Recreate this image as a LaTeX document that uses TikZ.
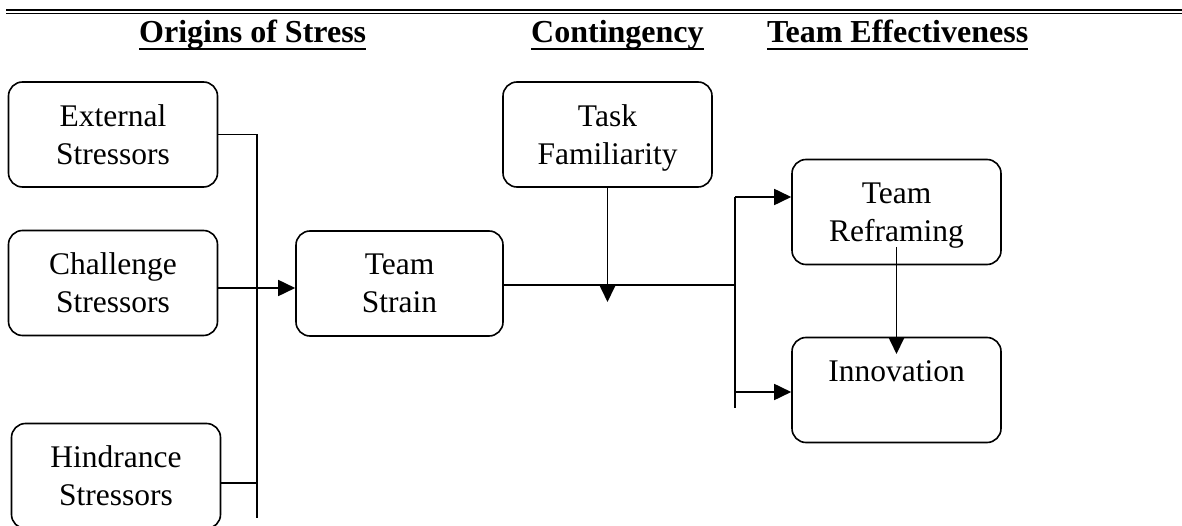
\documentclass[tikz,border=0pt]{standalone}
\usepackage{fontspec}
\setmainfont{Liberation Serif}
\usetikzlibrary{arrows.meta}
\tikzset{
  box/.style={draw, line width=1.6pt, rounded corners=14pt, minimum width=209pt, minimum height=105pt,
    align=center, inner sep=0pt, text depth=0pt, font=\fontsize{31.5}{38}\selectfont},
  conn/.style={line width=1.7pt},
  arr/.style={conn, -{Triangle[length=17pt,width=16pt]}},
  head/.style={font=\bfseries\fontsize{32}{38}\selectfont, inner sep=0pt, anchor=base west},
  uline/.style={line width=2.8pt},
}
\begin{document}
\begin{tikzpicture}[x=1pt,y=-1pt]
\useasboundingbox (0,0) rectangle (1182,526);
\clip (0,0) rectangle (1182,526);
% top rules
\coordinate (r1a) at (6,10.3); \coordinate (r1b) at (1182,10.3);
\coordinate (r2a) at (6,13.6); \coordinate (r2b) at (1182,13.6);
\draw[line width=2.2pt] (r1a) -- (r1b);
\draw[line width=1.4pt] (r2a) -- (r2b);
% headings
\node[head] (h1) at (139,43) {Origins of Stress};
\node[head] (h2) at (531,43) {Contingency};
\node[head] (h3) at (767,43) {Team Effectiveness};
\foreach \h in {h1,h2,h3}{
  \draw[uline] ([yshift=-6pt]\h.base west) -- ([yshift=-6pt]\h.base east);
}
% boxes
\node[box] (ext) at (113,134.5) {External\\Stressors};
\node[box] (cha) at (113,283) {Challenge\\Stressors};
\node[box] (hin) at (116,476) {Hindrance\\Stressors};
\node[box, minimum width=207pt] (str) at (399.5,283.5) {Team\\Strain};
\node[box] (task) at (607.5,134.5) {Task\\Familiarity};
\node[box] (ref) at (896.5,212) {Team\\Reframing};
\node[box] (inn) at (896.5,390) {Innovation\\\mbox{}};
% connector coordinates
\coordinate (busbot) at (257,518);
\coordinate (bx) at (257,0);
\coordinate (spltop) at (735,197);
\coordinate (spllow) at (735,392);
\coordinate (splbot) at (735,408);
\coordinate (mod) at (607.5,302);
% connectors
\draw[conn] (ext.east) -| (busbot);
\draw[conn] ([yshift=-7pt]hin.east) -- ([yshift=-7pt]hin.east -| bx);
\draw[arr] ([yshift=-5pt]cha.east) -- ([yshift=-5pt]cha.east -| str.west);
\draw[conn] ([yshift=-1.5pt]str.east) -- ([yshift=-1.5pt]str.east -| spltop);
\draw[conn] (spltop) -- (splbot);
\draw[arr] (spltop) -- (spltop -| ref.west);
\draw[arr] (spllow) -- (spllow -| inn.west);
\draw[arr] (task.south) -- (mod);
\draw[arr] ([yshift=-35pt]ref.center) -- ([yshift=36pt]inn.center);
\end{tikzpicture}
\end{document}
